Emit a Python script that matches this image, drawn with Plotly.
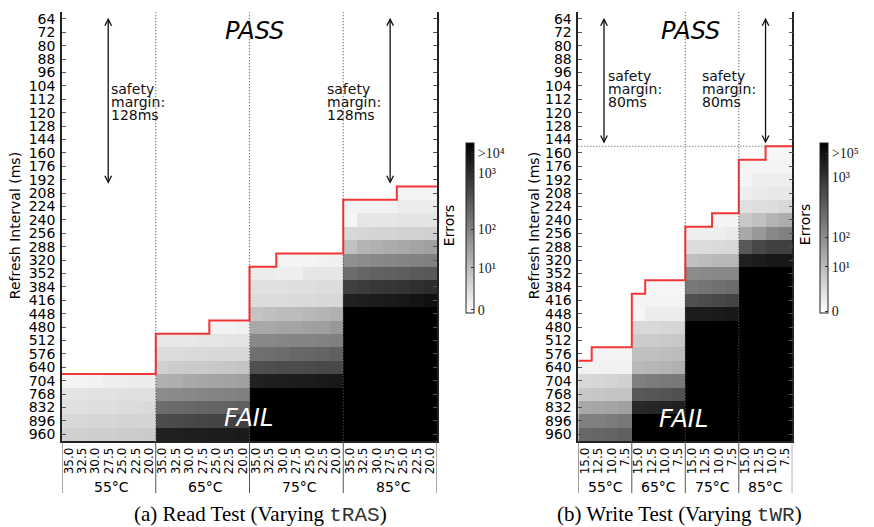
import plotly.graph_objects as go

# ---------------- data ----------------
REFRESH_MS = [64, 72, 80, 88, 96, 104, 112, 120, 128, 144, 160, 176, 192, 208, 224, 240,
              256, 288, 320, 352, 384, 416, 448, 480, 512, 576, 640, 704, 768, 832, 896, 960]
TEMPS = ["55°C", "65°C", "75°C", "85°C"]
TRAS_NS = ["35.0", "32.5", "30.0", "27.5", "25.0", "22.5", "20.0"]
TWR_NS = ["15.0", "12.5", "10.0", "7.5"]

# Error intensity read from the grey level (0 = no errors / white, 255 = >10^4 errors / black)
# Each block lists rows from the first refresh interval (key) down to 960 ms, one value per column.
B7 = [255, 255, 255, 255, 255, 255, 255]
B4 = [255, 255, 255, 255]
N = None

READ_55 = (704, [
    [11, 11, 13, 17, 17, 19, 19],
    [27, 27, 29, 29, 31, 31, 31],
    [31, 31, 33, 33, 35, 35, 37],
    [39, 39, 41, 41, 43, 43, 43],
    [47, 47, 49, 49, 51, 51, 53],
])
READ_65 = (480, [
    [N, N, N, N, 13, 13, 15],
    [23, 23, 23, 25, 25, 27, 27],
    [35, 35, 37, 37, 39, 39, 39],
    [47, 51, 53, 53, 55, 57, 59],
    [79, 81, 87, 89, 91, 93, 95],
    [115, 117, 119, 121, 123, 125, 127],
    [147, 149, 151, 153, 155, 157, 159],
    [179, 181, 183, 185, 187, 189, 191],
    [223, 223, 225, 225, 227, 227, 229],
])
READ_75 = (320, [
    [N, N, 11, 11, 11, 13, 15],
    [19, 19, 17, 17, 25, 25, 25],
    [31, 31, 31, 33, 33, 35, 35],
    [35, 35, 35, 37, 37, 39, 39],
    [59, 63, 67, 67, 71, 75, 79],
    [87, 87, 91, 91, 95, 95, 103],
    [119, 119, 121, 123, 123, 125, 127],
    [143, 145, 147, 151, 153, 155, 159],
    [175, 177, 179, 179, 181, 183, 183],
    [223, 225, 225, 227, 227, 229, 231],
    B7, B7, B7, B7,
])
READ_85 = (208, [
    [N, N, N, N, 11, 11, 11],
    [13, 13, 13, 13, 19, 19, 19],
    [9, 25, 25, 25, 27, 27, 27],
    [39, 41, 43, 43, 45, 45, 47],
    [63, 75, 79, 83, 87, 91, 95],
    [111, 115, 119, 121, 123, 125, 127],
    [147, 153, 157, 159, 161, 165, 167],
    [191, 195, 199, 201, 203, 207, 211],
    [223, 225, 227, 229, 231, 235, 239],
    B7, B7, B7, B7, B7, B7, B7, B7, B7, B7,
])

WRITE_55 = (576, [
    [N, 11, 11, 11],
    [13, 13, 13, 13],
    [39, 41, 43, 47],
    [55, 57, 59, 59],
    [87, 89, 91, 95],
    [127, 127, 131, 135],
    [151, 153, 155, 159],
])
WRITE_65 = (384, [
    [N, 9, 9, 9],
    [11, 11, 11, 11],
    [9, 19, 19, 19],
    [39, 39, 41, 43],
    [51, 51, 53, 55],
    [63, 63, 65, 67],
    [71, 73, 75, 79],
    [127, 131, 133, 135],
    [167, 169, 171, 175],
    [215, 217, 219, 223],
    B4, B4,
])
WRITE_75 = (240, [
    [N, N, 11, 11],
    [17, 17, 17, 21],
    [35, 35, 37, 39],
    [63, 67, 71, 71],
    [115, 117, 119, 119],
    [135, 139, 143, 147],
    [175, 179, 183, 187],
    [227, 227, 229, 231],
    B4, B4, B4, B4, B4, B4, B4, B4, B4,
])
WRITE_85 = (160, [
    [N, N, 9, 9],
    [11, 11, 11, 11],
    [11, 17, 17, 17],
    [17, 21, 23, 23],
    [31, 33, 35, 39],
    [55, 63, 75, 83],
    [87, 103, 119, 127],
    [167, 183, 191, 191],
    [223, 227, 231, 231],
    B4, B4, B4, B4, B4, B4, B4, B4, B4, B4, B4, B4, B4,
])

READ_BLOCKS = [READ_55, READ_65, READ_75, READ_85]
WRITE_BLOCKS = [WRITE_55, WRITE_65, WRITE_75, WRITE_85]

CBAR_READ_TICKS = [4, 67, 125, 209, 239]
CBAR_READ_TEXT = ["0", "10¹", "10²", "10³", ">10⁴"]
CBAR_WRITE_TICKS = [2, 69, 113, 203, 239]
CBAR_WRITE_TEXT = ["0", "10¹", "10²", "10³", ">10⁵"]

SAFETY_READ = 128
SAFETY_WRITE = 80


# ---------------- build matrices ----------------
def build(blocks, ncol):
    nrow = len(REFRESH_MS)
    z = [[None] * (ncol * len(blocks)) for _ in range(nrow)]
    for g, (first, rows) in enumerate(blocks):
        r0 = REFRESH_MS.index(first)
        for i, row in enumerate(rows):
            for c, v in enumerate(row):
                z[r0 + i][g * ncol + c] = v
    return z


def boundary(z):
    ncol = len(z[0])
    ys = []
    for c in range(ncol):
        r = next(i for i in range(len(z)) if z[i][c] is not None)
        ys.append(r - 0.5)
    xs = [c - 0.5 for c in range(ncol + 1)]
    return xs, ys + [ys[-1]]


z_read = build(READ_BLOCKS, len(TRAS_NS))
z_write = build(WRITE_BLOCKS, len(TWR_NS))

W, H = 874, 527
YDOM = [1 - 441.7 / H, 1 - 11.3 / H]
X1DOM = [62 / W, 437 / W]
X2DOM = [578.3 / W, 792.3 / W]

GREYS = [[0, "#ffffff"], [1, "#000000"]]
TICKFONT = dict(family="DejaVu Sans", size=14, color="#000")
DOT = "1px,2px"

fig = go.Figure()


def cbar(xpx, tv, tt):
    return dict(x=xpx / W, xanchor="left", xpad=0, ypad=0, thickness=8, len=171 / H,
                lenmode="fraction", y=1 - 227.5 / H, yanchor="middle",
                outlinewidth=1, outlinecolor="#222", tickvals=tv, ticktext=tt,
                ticks="inside", ticklen=3, tickcolor="#333",
                tickfont=dict(family="Liberation Serif", size=14, color="#222"))


fig.add_trace(go.Heatmap(z=z_read, x=list(range(28)), y=list(range(32)), colorscale=GREYS,
                         zmin=0, zmax=255, xaxis="x", yaxis="y", hoverongaps=False,
                         colorbar=cbar(466, CBAR_READ_TICKS, CBAR_READ_TEXT)))
fig.add_trace(go.Heatmap(z=z_write, x=list(range(16)), y=list(range(32)), colorscale=GREYS,
                         zmin=0, zmax=255, xaxis="x2", yaxis="y2", hoverongaps=False,
                         colorbar=cbar(820, CBAR_WRITE_TICKS, CBAR_WRITE_TEXT)))

RED = "#f53535"
bx, by = boundary(z_read)
fig.add_trace(go.Scatter(x=bx, y=by, mode="lines", line=dict(color=RED, width=2, shape="hv"),
                         xaxis="x", yaxis="y", showlegend=False, hoverinfo="skip"))
bx2, by2 = boundary(z_write)
fig.add_trace(go.Scatter(x=bx2, y=by2, mode="lines", line=dict(color=RED, width=2, shape="hv"),
                         xaxis="x2", yaxis="y2", showlegend=False, hoverinfo="skip"))


def yax(dom_anchor):
    return dict(domain=YDOM, range=[31.5, -0.5], tickvals=list(range(32)),
                ticktext=[str(v) for v in REFRESH_MS], tickfont=TICKFONT,
                showgrid=False, zeroline=False, showline=True, linecolor="#222", linewidth=1.5,
                mirror="ticks", ticks="inside", ticklen=4, tickcolor="#555",
                anchor=dom_anchor, ticklabelstandoff=2)


def xax(dom, ncol_total, labels, anchor):
    return dict(domain=dom, range=[-0.5, ncol_total - 0.5], tickvals=list(range(ncol_total)),
                ticktext=labels, tickangle=-90,
                tickfont=dict(family="DejaVu Sans", size=12, color="#000"),
                showgrid=False, zeroline=False, showline=True, linecolor="#222", linewidth=1.5,
                ticks="", anchor=anchor, ticklabelstandoff=0)


fig.update_layout(
    width=W, height=H, margin=dict(l=0, r=0, t=0, b=0),
    paper_bgcolor="white", plot_bgcolor="white", showlegend=False,
    xaxis=xax(X1DOM, 28, TRAS_NS * 4, "y"),
    yaxis=yax("x"),
    xaxis2=xax(X2DOM, 16, TWR_NS * 4, "y2"),
    yaxis2=yax("x2"),
)

shapes = []
ann = []
ybot = 1 - 494 / H
for (xr, yr, ncol, ngroup, dotted) in [("x", "y", 7, 4, [1, 2, 3]), ("x2", "y2", 4, 4, [2, 3])]:
    for g in range(ngroup + 1):
        xb = g * ncol - 0.5
        shapes.append(dict(type="line", xref=xr, yref="paper", x0=xb, x1=xb, y0=YDOM[0], y1=ybot,
                           line=dict(color="#555", width=1)))
    for g in dotted:
        xb = g * ncol - 0.5
        shapes.append(dict(type="line", xref=xr, yref=yr, x0=xb, x1=xb, y0=-0.5, y1=31.5,
                           line=dict(color="#555", width=1.2, dash=DOT), layer="above"))
    for g in range(ngroup):
        ann.append(dict(xref=xr, yref="paper", x=g * ncol + (ncol - 1) / 2, y=1 - 487.5 / H,
                        text=TEMPS[g], showarrow=False, xshift=3 if ncol == 7 else 0,
                        yanchor="middle", xanchor="center",
                        font=dict(family="DejaVu Sans", size=14, color="#000")))

# horizontal safety line on write test
r144 = REFRESH_MS.index(144)
shapes.append(dict(type="line", xref="x2", yref="y2", x0=-0.5, x1=13.5, y0=r144 + 0.5, y1=r144 + 0.5,
                   line=dict(color="#555", width=1.2, dash=DOT)))


def arrow(xr, yr, x, ms_top, ms_bot):
    return dict(xref=xr, yref=yr, axref=xr, ayref=yr, x=x, y=REFRESH_MS.index(ms_bot) + 0.3,
                ax=x, ay=REFRESH_MS.index(ms_top) - 0.2, showarrow=True, arrowhead=5,
                startarrowhead=5, arrowside="end+start", arrowsize=1.0, startarrowsize=1.0,
                arrowwidth=1.3, arrowcolor="#111", text="")


ann.append(arrow("x", "y", 2.95, 64, 64 + SAFETY_READ))
ann.append(arrow("x", "y", 24.0, 64, 64 + SAFETY_READ))
ann.append(arrow("x2", "y2", 1.42, 64, 64 + SAFETY_WRITE))
ann.append(arrow("x2", "y2", 13.5, 64, 64 + SAFETY_WRITE))


def margin_text(xr, yr, x, yrow, ms):
    out = []
    for i, line in enumerate(["safety", "margin:", f"{ms}ms"]):
        out.append(dict(xref=xr, yref=yr, x=x, y=yrow + i * 0.97, text=line, showarrow=False,
                        xanchor="left", yanchor="middle",
                        font=dict(family="DejaVu Sans", size=14, color="#111")))
    return out


ann += margin_text("x", "y", 3.0, 5.2, SAFETY_READ)
ann += margin_text("x", "y", 19.1, 5.2, SAFETY_READ)
ann += margin_text("x2", "y2", 1.58, 4.27, SAFETY_WRITE)
ann += margin_text("x2", "y2", 8.63, 4.27, SAFETY_WRITE)

# PASS / FAIL
for xp, yp, t, col in [(254.5, 30.5, "PASS", "#000"), (690, 30.5, "PASS", "#000"),
                       (248.6, 419, "FAIL", "#fff"), (683.5, 420, "FAIL", "#fff")]:
    ann.append(dict(xref="paper", yref="paper", x=xp / W, y=1 - yp / H, text=f"<i>{t}</i>",
                    showarrow=False, xanchor="center", yanchor="middle",
                    font=dict(family="DejaVu Sans", size=24, color=col)))

# axis titles
for xp in [15, 534]:
    ann.append(dict(xref="paper", yref="paper", x=xp / W, y=1 - 226 / H, text="Refresh Interval (ms)",
                    textangle=-90, showarrow=False, xanchor="center", yanchor="middle",
                    font=dict(family="DejaVu Sans", size=14, color="#000")))
for xp in [449, 805]:
    ann.append(dict(xref="paper", yref="paper", x=xp / W, y=1 - 225 / H, text="Errors",
                    textangle=-90, showarrow=False, xanchor="center", yanchor="middle",
                    font=dict(family="DejaVu Sans", size=14, color="#000")))

# captions
MONO = "<span style='font-family:Liberation Mono;color:#333'>{}</span>"
for xp, t in [(260, "(a) Read Test (Varying " + MONO.format("tRAS") + ")"),
              (679.5, "(b) Write Test (Varying " + MONO.format("tWR") + ")")]:
    ann.append(dict(xref="paper", yref="paper", x=xp / W, y=1 - 515 / H, text=t, showarrow=False,
                    xanchor="center", yanchor="middle",
                    font=dict(family="Liberation Serif", size=21, color="#000")))

fig.update_layout(shapes=shapes, annotations=ann)
fig.write_html("out.html", config={"displayModeBar": False},
               post_script="document.body.style.margin='0';document.body.style.overflow='hidden';")
